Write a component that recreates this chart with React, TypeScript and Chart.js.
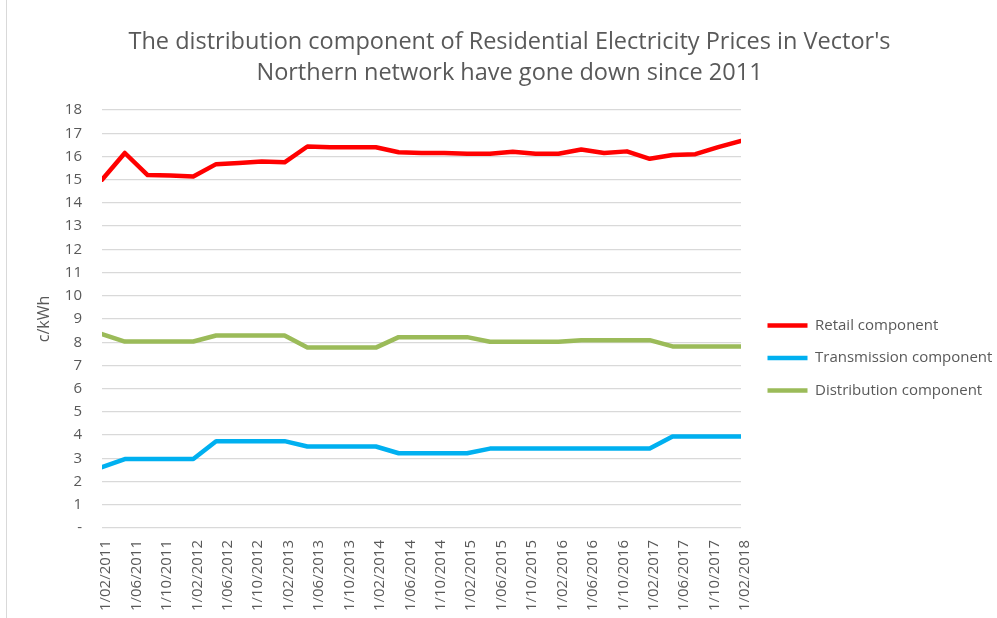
import React, { useEffect, useRef } from "react";
import { Chart, registerables } from "chart.js";

Chart.register(...registerables);

// Quarterly observation dates (d/mm/yyyy)
const dates = [
  "1/02/2011", "1/05/2011", "1/08/2011", "1/11/2011",
  "1/02/2012", "1/05/2012", "1/08/2012", "1/11/2012",
  "1/02/2013", "1/05/2013", "1/08/2013", "1/11/2013",
  "1/02/2014", "1/05/2014", "1/08/2014", "1/11/2014",
  "1/02/2015", "1/05/2015", "1/08/2015", "1/11/2015",
  "1/02/2016", "1/05/2016", "1/08/2016", "1/11/2016",
  "1/02/2017", "1/05/2017", "1/08/2017", "1/11/2017",
  "1/02/2018",
];

const retail = [
  15.0, 16.15, 15.2, 15.18, 15.14, 15.67, 15.72, 15.78, 15.75, 16.43,
  16.4, 16.4, 16.4, 16.18, 16.15, 16.15, 16.12, 16.12, 16.2, 16.12,
  16.12, 16.3, 16.15, 16.22, 15.9, 16.06, 16.1, 16.4, 16.67,
];

const transmission = [
  2.62, 2.97, 2.97, 2.97, 2.97, 3.74, 3.74, 3.74, 3.74, 3.51,
  3.51, 3.51, 3.51, 3.22, 3.22, 3.22, 3.22, 3.42, 3.42, 3.42,
  3.42, 3.42, 3.42, 3.42, 3.42, 3.94, 3.94, 3.94, 3.94,
];

const distribution = [
  8.35, 8.03, 8.03, 8.03, 8.03, 8.29, 8.29, 8.29, 8.29, 7.77,
  7.77, 7.77, 7.77, 8.22, 8.22, 8.22, 8.22, 8.02, 8.02, 8.02,
  8.02, 8.09, 8.09, 8.09, 8.09, 7.82, 7.82, 7.82, 7.82,
];

const seriesNames = ["Retail component", "Transmission component", "Distribution component"];
const seriesColors = ["#FF0000", "#00B0F0", "#9BBB59"];

const titleLines = [
  "The distribution component of Residential Electricity Prices in Vector's",
  "Northern network have gone down since 2011",
];
const yAxisTitle = "c/kWh";

const startYear = 2011;
const startMonth = 2;
const tickStepMonths = 4;

function monthIndex(d: string): number {
  const [, mm, yyyy] = d.split("/").map(Number);
  return (yyyy - startYear) * 12 + (mm - startMonth);
}

function formatMonth(v: number): string {
  const total = startMonth - 1 + Math.round(v);
  const y = startYear + Math.floor(total / 12);
  const m = (total % 12) + 1;
  return `1/${String(m).padStart(2, "0")}/${y}`;
}

const FONT = "'Open Sans', sans-serif";
const TEXT = "#595959";

// nudges the legend block to sit where the reference has it
const legendShift = {
  id: "legendShift",
  afterLayout(chart: any) {
    const lg = chart.legend;
    if (!lg) return;
    lg.left += 9;
    lg.right += 9;
    lg.top += 49;
    lg.bottom += 49;
  },
};

export default function App() {
  const ref = useRef<HTMLCanvasElement | null>(null);

  useEffect(() => {
    document.body.style.margin = "0";
    if (!ref.current) return;
    const xs = dates.map(monthIndex);
    const toPts = (vals: number[]) => vals.map((v, i) => ({ x: xs[i], y: v }));
    const all = [retail, transmission, distribution];
    const chart = new Chart(ref.current, {
      type: "line",
      data: {
        datasets: all.map((vals, i) => ({
          label: seriesNames[i],
          data: toPts(vals),
          borderColor: seriesColors[i],
          backgroundColor: seriesColors[i],
          borderWidth: 4.5,
          borderCapStyle: "round",
          borderJoinStyle: "round",
          pointRadius: 0,
          tension: 0,
        })),
      },
      plugins: [legendShift],
      options: {
        responsive: false,
        animation: false,
        layout: { padding: { left: 22, right: 0, top: 0, bottom: 0 } },
        plugins: {
          tooltip: { enabled: false },
          title: {
            display: true,
            text: titleLines,
            color: TEXT,
            font: { family: FONT, size: 23.5, weight: "normal", lineHeight: 1.32 },
            padding: { top: 26.5, bottom: 21.5 },
          },
          legend: {
            position: "right",
            labels: {
              usePointStyle: true,
              pointStyle: "line",
              pointStyleWidth: 40,
              color: TEXT,
              font: { family: FONT, size: 15 },
              padding: 17.5,
            },
          },
        },
        scales: {
          x: {
            type: "linear",
            min: 0,
            max: monthIndex(dates[dates.length - 1]),
            grid: { display: false, drawTicks: false },
            border: { display: false },
            afterFit: (s: any) => {
              s.paddingLeft = 0;
              s.paddingRight = 256;
              s.height = 90;
            },
            ticks: {
              stepSize: tickStepMonths,
              autoSkip: false,
              maxRotation: 90,
              minRotation: 90,
              labelOffset: 4,
              color: TEXT,
              font: { family: FONT, size: 15 },
              padding: 12,
              callback: (v: any) => formatMonth(Number(v)),
            },
          },
          y: {
            min: 0,
            max: 18,
            border: { display: false },
            grid: { color: "#d9d9d9", lineWidth: 1.3, drawTicks: false },
            afterFit: (s: any) => {
              s.width = 80;
            },
            ticks: {
              stepSize: 1,
              color: TEXT,
              font: { family: FONT, size: 15 },
              padding: 20,
              callback: (v: any) => (Number(v) === 0 ? "-" : String(v)),
            },
            title: {
              display: true,
              text: yAxisTitle,
              color: TEXT,
              font: { family: FONT, size: 16 },
              padding: { top: 13, bottom: 0 },
            },
          },
        },
      },
    } as any);
    return () => chart.destroy();
  }, []);

  return (
    <div style={{ position: "absolute", left: 0, top: 0, width: 997, height: 618, background: "#fff" }}>
      <div style={{ position: "absolute", left: 6, top: 0, width: 1, height: 618, background: "#d9d9d9" }} />
      <canvas ref={ref} width={997} height={618} style={{ position: "absolute", left: 0, top: 0 }} />
    </div>
  );
}
